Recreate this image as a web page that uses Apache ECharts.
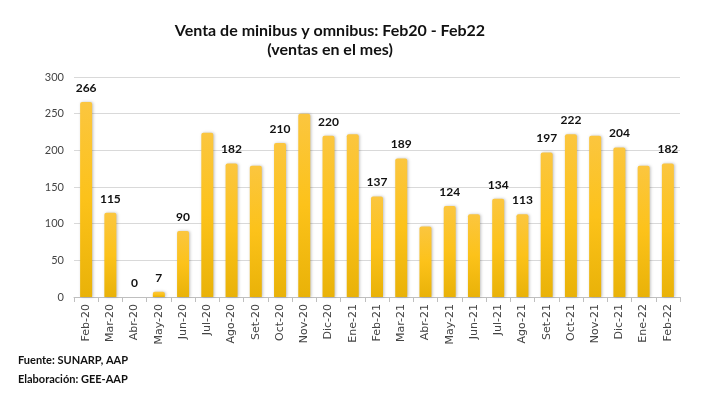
<!DOCTYPE html>
<html><head><meta charset="utf-8">
<script src="https://cdn.jsdelivr.net/npm/echarts@6/dist/echarts.min.js"></script>
<style>html,body{margin:0;padding:0;background:#fff}#c{width:714px;height:396px}</style>
</head><body><div id="c"></div>
<script>
var categories = ["Feb-20","Mar-20","Abr-20","May-20","Jun-20","Jul-20","Ago-20","Set-20","Oct-20","Nov-20","Dic-20","Ene-21","Feb-21","Mar-21","Abr-21","May-21","Jun-21","Jul-21","Ago-21","Set-21","Oct-21","Nov-21","Dic-21","Ene-22","Feb-22"];
var ventas = [266,115,0,7,90,224,182,179,210,250,220,222,137,189,96,124,113,134,113,197,222,220,204,179,182];
var showLabel = [1,1,1,1,1,0,1,0,1,0,1,0,1,1,0,1,0,1,1,1,1,0,1,0,1];
var yTicks = [0,50,100,150,200,250,300];

var chart = echarts.init(document.getElementById('c'));
var grad = new echarts.graphic.LinearGradient(0,0,0,1,[
  {offset:0,color:'#FBC63F'},{offset:0.5,color:'#FCC21A'},{offset:1,color:'#E9B208'}]);
chart.setOption({
  animation:false,
  textStyle:{fontFamily:'Lato'},
  title:{text:'Venta de minibus y omnibus: Feb20 - Feb22\n(ventas en el mes)',left:325,textAlign:'center',top:16,
    textStyle:{fontFamily:'Lato',fontSize:16,fontWeight:'bold',color:'#111',lineHeight:19}},
  graphic:[
    {type:'text',left:18,top:355,style:{text:'Fuente: SUNARP, AAP',font:'bold 11px Lato',fill:'#111'}},
    {type:'text',left:18,top:374,style:{text:'Elaboración: GEE-AAP',font:'bold 11px Lato',fill:'#111'}}
  ],
  grid:{left:74,right:34,top:77,bottom:99},
  xAxis:{type:'category',data:categories,
    axisLine:{lineStyle:{color:'#BFBFBF'}},
    axisTick:{show:true,lineStyle:{color:'#BFBFBF'}},
    axisLabel:{rotate:90,fontSize:11,color:'#444',fontFamily:'DejaVu Sans',margin:7}},
  yAxis:{type:'value',min:yTicks[0],max:yTicks[yTicks.length-1],interval:50,
    axisLine:{show:false},axisTick:{show:false},
    axisLabel:{fontSize:11,color:'#444',margin:10},
    splitLine:{lineStyle:{color:'#D9D9D9'}}},
  series:[{type:'bar',barWidth:12,
    data:ventas.map(function(v,i){return {value:v,label:{show:!!showLabel[i]}};}),
    itemStyle:{color:grad,shadowColor:'rgba(0,0,0,0.25)',shadowBlur:3,shadowOffsetX:1,shadowOffsetY:0,borderRadius:[2,2,0,0]},
    label:{position:'top',distance:8,fontSize:12,fontWeight:'bold',color:'#111'}}]
});
</script></body></html>
